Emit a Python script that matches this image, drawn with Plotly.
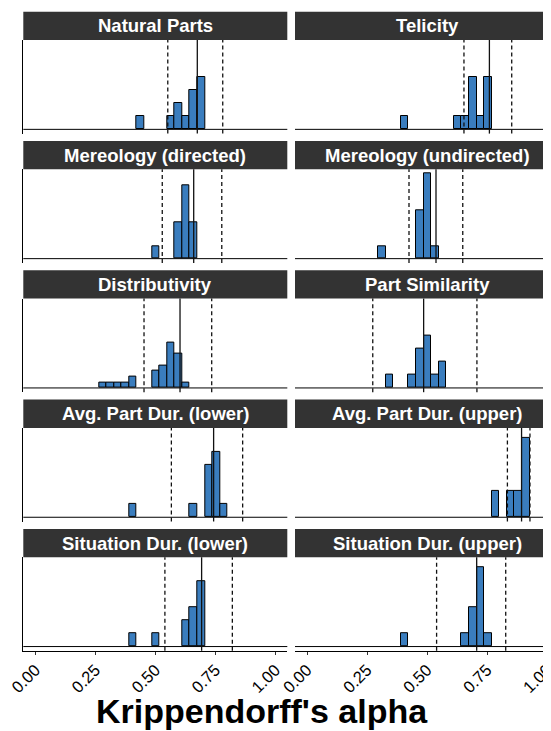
import plotly.graph_objects as go

# page body offset (browser default margin) that the figure is drawn inside
OFF = 8.0
W, H = 543, 723

panel_titles = [
    "Natural Parts", "Telicity",
    "Mereology (directed)", "Mereology (undirected)",
    "Distributivity", "Part Similarity",
    "Avg. Part Dur. (lower)", "Avg. Part Dur. (upper)",
    "Situation Dur. (lower)", "Situation Dur. (upper)",
]

# histogram bin centres (Krippendorff's alpha) and counts, per panel
natural_parts_alpha = [0.438, 0.565, 0.596, 0.628, 0.659, 0.691]
natural_parts_count = [1, 1, 2, 1, 3, 4]
telicity_alpha = [0.407, 0.628, 0.659, 0.691, 0.722, 0.754]
telicity_count = [1, 1, 1, 4, 1, 4]
mereology_dir_alpha = [0.501, 0.596, 0.628, 0.659]
mereology_dir_count = [1, 3, 6, 3]
mereology_undir_alpha = [0.312, 0.470, 0.501, 0.533]
mereology_undir_count = [1, 4, 7, 1]
distributivity_alpha = [0.281, 0.312, 0.344, 0.375, 0.407, 0.501, 0.533, 0.565, 0.596, 0.628]
distributivity_count = [1, 1, 1, 1, 2, 3, 4, 8, 6, 1]
part_similarity_alpha = [0.344, 0.438, 0.470, 0.501, 0.533, 0.565]
part_similarity_count = [1, 1, 3, 4, 1, 2]
avg_part_lower_alpha = [0.407, 0.659, 0.722, 0.754, 0.785]
avg_part_lower_count = [1, 1, 4, 5, 1]
avg_part_upper_alpha = [0.785, 0.848, 0.880, 0.911]
avg_part_upper_count = [1, 1, 1, 3]
sit_dur_lower_alpha = [0.407, 0.501, 0.628, 0.659, 0.691]
sit_dur_lower_count = [1, 1, 2, 3, 5]
sit_dur_upper_alpha = [0.407, 0.659, 0.691, 0.722, 0.754]
sit_dur_upper_count = [1, 1, 3, 6, 1]

# reference lines: point estimate (solid) and interval bounds (dashed)
ci_lower = [0.552, 0.654, 0.529, 0.425, 0.453, 0.274, 0.567, 0.835, 0.540, 0.540]
point_est = [0.675, 0.760, 0.660, 0.5375, 0.603, 0.486, 0.743, 0.894, 0.693, 0.707]
ci_upper = [0.781, 0.853, 0.777, 0.649, 0.735, 0.708, 0.864, 0.929, 0.821, 0.828]

tick_vals = [0.0, 0.25, 0.5, 0.75, 1.0]
tick_text = ["0.00", "0.25", "0.50", "0.75", "1.00"]

alphas = [natural_parts_alpha, telicity_alpha, mereology_dir_alpha, mereology_undir_alpha,
          distributivity_alpha, part_similarity_alpha, avg_part_lower_alpha, avg_part_upper_alpha,
          sit_dur_lower_alpha, sit_dur_upper_alpha]
counts = [natural_parts_count, telicity_count, mereology_dir_count, mereology_undir_count,
          distributivity_count, part_similarity_count, avg_part_lower_count, avg_part_upper_count,
          sit_dur_lower_count, sit_dur_upper_count]

BIN_START, BIN_SIZE = 0.0125, 0.03154
Y_RANGE = [-0.0269, 0.5654]
PX_PER_UNIT = 240.0

FILL = "#3A7DBE"
FONT = "Liberation Sans"

fig = go.Figure()
shapes, annotations = [], []
layout = {}

col_left = [23.3 - OFF, 295.0 - OFF]
strip_h, plot_h, pitch, top0 = 28.3, 93.6, 129.3, 11.7 - OFF

for i in range(10):
    r, c = divmod(i, 2)
    n = i + 1
    xa = "x" if n == 1 else f"x{n}"
    ya = "y" if n == 1 else f"y{n}"
    x0px = col_left[c]
    x1px = min(x0px + 264.0, W)
    T = top0 + pitch * r
    S = T + strip_h
    B = S + plot_h
    xdom = [x0px / W, x1px / W]
    ydom = [1 - B / H, 1 - S / H]
    xr = [-0.05, -0.05 + (x1px - x0px) / PX_PER_UNIT]
    bottom = (r == 4)

    fig.add_trace(go.Histogram(
        x=alphas[i], y=counts[i], histfunc="sum", histnorm="probability",
        xbins=dict(start=BIN_START, end=1.0, size=BIN_SIZE), autobinx=False,
        marker=dict(color=FILL, line=dict(color="black", width=1)),
        xaxis=xa, yaxis=ya, showlegend=False,
    ))

    layout[("xaxis" if n == 1 else f"xaxis{n}")] = dict(
        domain=xdom, range=xr, anchor=ya, showgrid=False, zeroline=False,
        automargin=False, ticklabeloverflow="allow", ticklabelstandoff=-1,
        showline=bottom, linecolor="black", linewidth=1,
        ticks="outside" if bottom else "", ticklen=3, tickcolor="#333",
        tickvals=tick_vals, ticktext=tick_text, showticklabels=bottom,
        tickangle=-45, tickfont=dict(family=FONT, size=16.5, color="black"),
    )
    layout[("yaxis" if n == 1 else f"yaxis{n}")] = dict(
        domain=ydom, range=Y_RANGE, anchor=xa, showgrid=False, zeroline=False,
        automargin=False,
        showline=(c == 0), linecolor="black", linewidth=1,
        showticklabels=False, ticks="",
    )

    # strip
    shapes.append(dict(type="rect", xref="paper", yref="paper",
                       x0=xdom[0], x1=xdom[1], y0=1 - S / H, y1=1 - T / H,
                       fillcolor="#333333", line=dict(width=0), layer="above"))
    annotations.append(dict(text=f"<b>{panel_titles[i]}</b>", xref="paper", yref="paper",
                            x=(x0px + 132.0) / W, y=1 - (T + strip_h / 2) / H,
                            showarrow=False, xanchor="center", yanchor="middle",
                            font=dict(family=FONT, size=18.5, color="white")))
    # baseline
    shapes.append(dict(type="line", xref=f"{xa} domain", yref=ya, x0=0, x1=1, y0=0, y1=0,
                       line=dict(color="black", width=1)))
    # reference lines
    for v, d in ((ci_lower[i], "4px,3px"), (ci_upper[i], "4px,3px"), (point_est[i], "solid")):
        shapes.append(dict(type="line", xref=xa, yref=f"{ya} domain", x0=v, x1=v, y0=0, y1=1,
                           line=dict(color="#111111", width=1.3, dash=d)))

annotations.append(dict(text="<b>Krippendorff's alpha</b>", xref="paper", yref="paper",
                        x=(262 - OFF) / W, y=1 - (711 - OFF) / H, showarrow=False,
                        xanchor="center", yanchor="middle",
                        font=dict(family=FONT, size=34, color="black")))

fig.update_layout(
    width=W, height=H, margin=dict(l=0, r=0, t=0, b=0, autoexpand=False),
    paper_bgcolor="white", plot_bgcolor="white", bargap=0,
    shapes=shapes, annotations=annotations, **layout,
)

fig.write_html("out.html")
